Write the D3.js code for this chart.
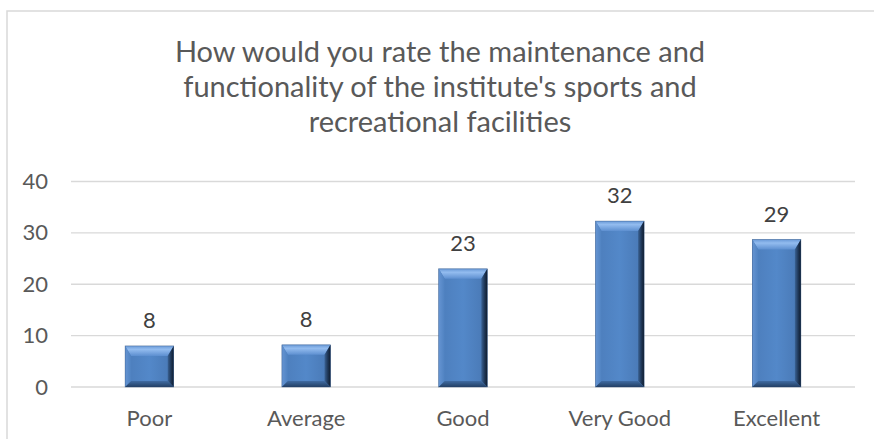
<!DOCTYPE html>
<html>
<head>
<meta charset="utf-8">
<script src="https://cdn.jsdelivr.net/npm/d3@7"></script>
<style>
  html, body { margin: 0; padding: 0; background: #fff; }
  svg { display: block; font-family: Lato, "Open Sans", sans-serif; }
</style>
</head>
<body>
<svg id="chart" width="874" height="439"></svg>
<script>
const titleLines = [
  "How would you rate the maintenance and",
  "functionality of the institute's sports and",
  "recreational facilities"
];
const categories = ["Poor", "Average", "Good", "Very Good", "Excellent"];
const values = [8, 8.2, 23, 32.3, 28.7];
const yTicks = [0, 10, 20, 30, 40];

const W = 874, H = 439;
const plot = { left: 71, right: 855, top: 181.5, bottom: 387 };
const textColor = "#595959";

const svg = d3.select("#chart");

// chart area border
svg.append("rect")
  .attr("x", 7).attr("y", 11)
  .attr("width", 900).attr("height", 500)
  .attr("fill", "#fff")
  .attr("stroke", "#d9d9d9").attr("stroke-width", 1.5);

const x = d3.scaleBand()
  .domain(categories)
  .range([plot.left, plot.right])
  .paddingInner(0.69)
  .paddingOuter(0.345);

const y = d3.scaleLinear()
  .domain([0, 40])
  .range([plot.bottom, plot.top]);

// gridlines
svg.append("g")
  .selectAll("line")
  .data(yTicks)
  .join("line")
  .attr("x1", plot.left).attr("x2", plot.right)
  .attr("y1", d => y(d)).attr("y2", d => y(d))
  .attr("stroke", "#d9d9d9").attr("stroke-width", 1.3);

// y axis labels
const yAxis = d3.axisLeft(y).tickValues(yTicks).tickSize(0).tickPadding(0);
const yg = svg.append("g").attr("transform", `translate(${48},0)`).call(yAxis);
yg.select(".domain").remove();
yg.selectAll("text")
  .attr("fill", textColor)
  .style("font-size", "22px")
  .style("font-family", "Lato, sans-serif");

// x axis labels
const xAxis = d3.axisBottom(x).tickSize(0).tickPadding(0);
const xg = svg.append("g").attr("transform", `translate(0,${plot.bottom})`).call(xAxis);
xg.select(".domain").remove();
xg.selectAll("text")
  .attr("dy", null)
  .attr("y", 38.5)
  .attr("fill", textColor)
  .style("font-size", "22px")
  .style("font-family", "Lato, sans-serif");

// gradients for bevel bars
const defs = svg.append("defs");
function lin(id, x1, y1, x2, y2, stops) {
  const g = defs.append("linearGradient").attr("id", id)
    .attr("x1", x1).attr("y1", y1).attr("x2", x2).attr("y2", y2);
  stops.forEach(s => g.append("stop").attr("offset", s[0]).attr("stop-color", s[1]));
}
lin("gBody", 0, 0, 1, 0, [[0, "#4c7dbb"], [0.5, "#5388c9"], [1, "#4877b3"]]);
lin("gTop", 0, 0, 0, 1, [[0, "#6a9ad8"], [0.35, "#93bcef"], [1, "#5d8fd0"]]);
lin("gLeft", 0, 0, 1, 0, [[0, "#6594d2"], [1, "#4f82c1"]]);
lin("gRight", 0, 0, 1, 0, [[0, "#3a6294"], [0.55, "#1f3757"], [1, "#0f1c2e"]]);
lin("gBottom", 0, 0, 0, 1, [[0, "#3f6ba2"], [1, "#233f64"]]);

const bw = x.bandwidth();
const bevTop = 10, bevSide = 6, bevRight = 6, bevBot = 6;

const bars = svg.append("g")
  .selectAll("g")
  .data(categories.map((c, i) => ({ c, v: values[i] })))
  .join("g");

bars.each(function(d) {
  const g = d3.select(this);
  const x0 = x(d.c), x1 = x0 + bw;
  const y0 = y(d.v), y1 = y(0);
  const h = y1 - y0;
  const bt = Math.min(bevTop, h / 3), bb = Math.min(bevBot, h / 4);
  const ix0 = x0 + bevSide, ix1 = x1 - bevRight, iy0 = y0 + bt, iy1 = y1 - bb;
  g.append("rect").attr("x", x0).attr("y", y0).attr("width", bw).attr("height", h).attr("fill", "url(#gBody)");
  const poly = (pts, fill) => g.append("polygon")
    .attr("points", pts.map(p => p.join(",")).join(" "))
    .attr("fill", fill);
  poly([[x0, y0], [x1, y0], [ix1, iy0], [ix0, iy0]], "url(#gTop)");
  poly([[x0, y0], [ix0, iy0], [ix0, iy1], [x0, y1]], "url(#gLeft)");
  poly([[x1, y0], [x1, y1], [ix1, iy1], [ix1, iy0]], "url(#gRight)");
  poly([[x0, y1], [ix0, iy1], [ix1, iy1], [x1, y1]], "url(#gBottom)");
  g.append("rect").attr("x", x0).attr("y", y0).attr("width", bw).attr("height", h)
    .attr("fill", "none").attr("stroke", "#2c4d78").attr("stroke-width", 0.6).attr("stroke-opacity", 0.6);
});

// data labels
svg.append("g")
  .selectAll("text")
  .data(categories.map((c, i) => ({ c, v: values[i] })))
  .join("text")
  .attr("x", d => x(d.c) + bw / 2)
  .attr("y", d => y(d.v) - 18)
  .attr("text-anchor", "middle")
  .attr("fill", "#404040")
  .style("font-size", "22px")
  .text(d => d3.format(".0f")(d.v));

// title
svg.append("g")
  .selectAll("text")
  .data(titleLines)
  .join("text")
  .attr("x", 440)
  .attr("y", (d, i) => 62 + i * 34.8)
  .attr("text-anchor", "middle")
  .attr("fill", textColor)
  .style("font-size", "29px")
  .text(d => d);
</script>
</body>
</html>
